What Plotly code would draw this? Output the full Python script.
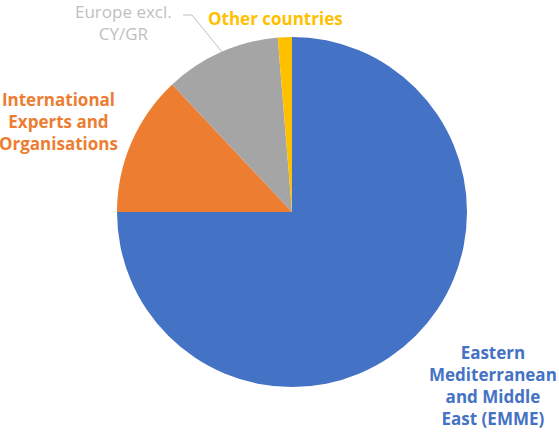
import plotly.graph_objects as go

categories = ["Eastern Mediterranean and Middle East (EMME)", "International Experts and Organisations",
              "Europe excl. CY/GR", "Other countries"]
values = [75.0, 13.0, 10.7, 1.3]
colors = ["#4472C4", "#ED7D31", "#A5A5A5", "#FFC000"]

W, H = 559, 434

def px(x):
    return x / W

def py(y):
    return 1 - y / H

fig = go.Figure(go.Pie(
    labels=categories, values=values, sort=False, direction="clockwise", rotation=0,
    marker=dict(colors=colors, line=dict(color="white", width=0)),
    textinfo="none", hoverinfo="label+percent", showlegend=False,
    domain=dict(x=[px(117), px(467)], y=[py(387), py(37)]),
))

font = "Open Sans"
ann = [
    dict(text="<b>Eastern<br>Mediterranean<br>and Middle<br>East (EMME)</b>", x=px(493), y=py(385), color="#4472C4"),
    dict(text="<b>International<br>Experts and<br>Organisations</b>", x=px(58), y=py(121), color="#ED7D31"),
    dict(text="Europe excl.<br>CY/GR", x=px(123), y=py(22), color="#BFBFBF"),
    dict(text="<b>Other countries</b>", x=px(275), y=py(18), color="#FFC000"),
]
annotations = []
for a in ann:
    annotations.append(dict(text=a["text"], x=a["x"], y=a["y"], xref="paper", yref="paper",
                            xanchor="center", yanchor="middle", showarrow=False, align="center",
                            font=dict(family=font, size=17, color=a["color"])))

fig.update_layout(
    width=W, height=H, margin=dict(l=0, r=0, t=0, b=0),
    paper_bgcolor="white", plot_bgcolor="white",
    annotations=annotations,
    shapes=[
        dict(type="path", xref="paper", yref="paper",
             path=f"M {px(183)} {py(15)} L {px(192)} {py(15)} L {px(222)} {py(52)}",
             line=dict(color="#BFBFBF", width=1)),
    ],
)
fig.write_html("out.html", config={"displayModeBar": False},
               post_script="document.body.style.margin='0';")
